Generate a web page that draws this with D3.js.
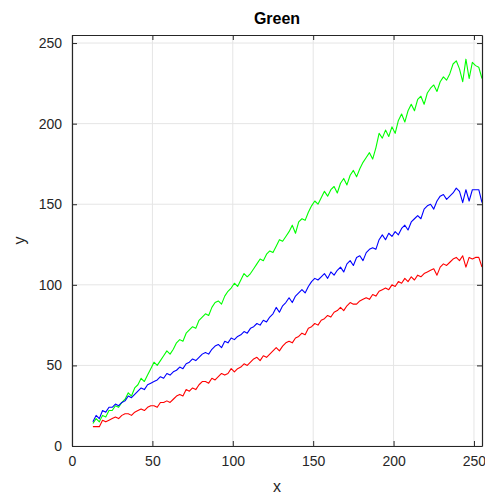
<!DOCTYPE html>
<html><head><meta charset="utf-8">
<script src="https://cdn.jsdelivr.net/npm/d3@7"></script>
<style>body{margin:0;background:#fff}svg{display:block}</style>
</head><body>
<script>
const xs = [13,15,17,19,21,23,25,27,29,31,33,35,37,39,41,43,45,47,49,51,53,55,57,59,61,63,65,67,69,71,73,75,77,79,81,83,85,87,89,91,93,95,97,99,101,103,105,107,109,111,113,115,117,119,121,123,125,127,129,131,133,135,137,139,141,143,145,147,149,151,153,155,157,159,161,163,165,167,169,171,173,175,177,179,181,183,185,187,189,191,193,195,197,199,201,203,205,207,209,211,213,215,217,219,221,223,225,227,229,231,233,235,237,239,241,243,245,247,249,251,253,255];
const green = [14,17,15,19,18,22,22,25,24,27,
  29,33,31,36,38,42,40,44,48,52,
  50,53,56,59,57,60,64,66,65,70,
  72,74,73,78,80,82,81,86,89,90,
  88,93,96,98,101,99,103,107,105,107,
  110,113,116,115,119,121,120,124,128,127,
  130,133,137,132,139,141,140,145,149,152,
  150,154,158,155,159,161,157,163,166,162,
  168,171,167,172,176,179,182,178,185,194,
  191,196,192,198,194,202,206,201,208,212,
  208,215,217,212,219,222,224,220,226,229,
  227,231,237,239,234,226,240,228,238,236,
  235,228];
const blue = [15,19,17,22,21,24,24,26,25,27,
  28,31,30,32,34,36,35,38,39,40,
  41,43,42,45,44,46,47,49,48,51,
  52,54,53,55,57,58,57,60,62,63,
  61,65,64,67,66,68,69,71,70,73,
  74,76,75,78,77,80,82,86,83,87,
  89,92,89,93,95,97,95,99,102,104,
  103,105,107,104,108,106,109,111,108,113,
  115,112,117,118,115,120,122,123,122,128,
  131,128,132,130,133,131,135,137,134,139,
  141,143,141,147,149,150,147,152,155,156,
  153,155,157,160,158,151,159,152,159,159,
  159,151];
const red = [12,12,12,16,15,16,17,18,17,19,
  20,20,19,21,22,23,22,24,25,25,
  24,27,27,28,27,29,31,32,31,35,
  34,36,35,38,40,40,39,42,41,43,
  45,44,45,48,46,48,49,51,50,52,
  54,55,53,56,55,57,59,61,59,62,
  64,65,64,67,68,70,69,73,74,76,
  75,78,79,81,80,83,84,86,84,87,
  89,88,88,90,91,92,91,94,93,96,
  97,98,97,100,99,102,101,104,102,105,
  103,106,105,107,108,109,110,106,111,113,
  112,114,116,117,115,118,111,117,116,117,
  117,111];
const xTicks = [0,50,100,150,200,250];
const yTicks = [0,50,100,150,200,250];
const seriesNames = ["Green","Blue","Red"];
const seriesColors = ["#00ff00","#0000ff","#ff0000"];
const seriesValues = [green, blue, red];

const W = 485, H = 497;
const m = {left:72, right:3, top:35, bottom:51};
const svg = d3.select("body").append("svg").attr("width",W).attr("height",H);
const x = d3.scaleLinear().domain([0,255]).range([m.left, W-m.right]);
const y = d3.scaleLinear().domain([0,255]).range([H-m.bottom, m.top]);
const font = "'Liberation Sans', Arial, Helvetica, sans-serif";

svg.append("g").selectAll("line").data(xTicks).join("line")
  .attr("x1",d=>x(d)).attr("x2",d=>x(d)).attr("y1",y(0)).attr("y2",y(255))
  .attr("stroke","#e5e5e5").attr("stroke-width",1);
svg.append("g").selectAll("line").data(yTicks).join("line")
  .attr("x1",x(0)).attr("x2",x(255)).attr("y1",d=>y(d)).attr("y2",d=>y(d))
  .attr("stroke","#e5e5e5").attr("stroke-width",1);

svg.append("clipPath").attr("id","c").append("rect")
  .attr("x",x(0)).attr("y",y(255)).attr("width",x(255)-x(0)).attr("height",y(0)-y(255));
const line = d3.line().x((d,i)=>x(xs[i])).y(d=>y(d));
svg.append("g").attr("clip-path","url(#c)").selectAll("path").data(seriesValues).join("path")
  .attr("d",d=>line(d)).attr("fill","none")
  .attr("stroke",(d,i)=>seriesColors[i]).attr("stroke-width",1.1).attr("stroke-linejoin","round");

const tl = 5;
const axB = svg.append("g").attr("transform",`translate(0,${y(0)})`)
  .call(d3.axisBottom(x).tickValues(xTicks).tickSizeInner(-tl).tickSizeOuter(0).tickPadding(10));
const axT = svg.append("g").attr("transform",`translate(0,${y(255)})`)
  .call(d3.axisTop(x).tickValues(xTicks).tickSizeInner(-tl).tickSizeOuter(0).tickFormat(""));
const axL = svg.append("g").attr("transform",`translate(${x(0)},0)`)
  .call(d3.axisLeft(y).tickValues(yTicks).tickSizeInner(-tl).tickSizeOuter(0).tickPadding(10));
const axR = svg.append("g").attr("transform",`translate(${x(255)},0)`)
  .call(d3.axisRight(y).tickValues(yTicks).tickSizeInner(-tl).tickSizeOuter(0).tickFormat(""));
[axB,axT,axL,axR].forEach(a=>{
  a.selectAll("path").attr("stroke","#262626").attr("stroke-width",1.2);
  a.selectAll("line").attr("stroke","#262626").attr("stroke-width",1);
  a.selectAll("text").attr("fill","#262626").style("font-family",font).style("font-size","14px");
});

svg.append("text").attr("x",(x(0)+x(255))/2).attr("y",24).attr("text-anchor","middle")
  .style("font-family",font).style("font-size","16px").style("font-weight","bold").attr("fill","#000").text("Green");
svg.append("text").attr("x",(x(0)+x(255))/2).attr("y",492).attr("text-anchor","middle")
  .style("font-family",font).style("font-size","16px").attr("fill","#262626").text("x");
svg.append("text").attr("transform",`translate(25,${(y(0)+y(255))/2}) rotate(-90)`).attr("text-anchor","middle")
  .style("font-family",font).style("font-size","16px").attr("fill","#262626").text("y");
</script>
</body></html>
